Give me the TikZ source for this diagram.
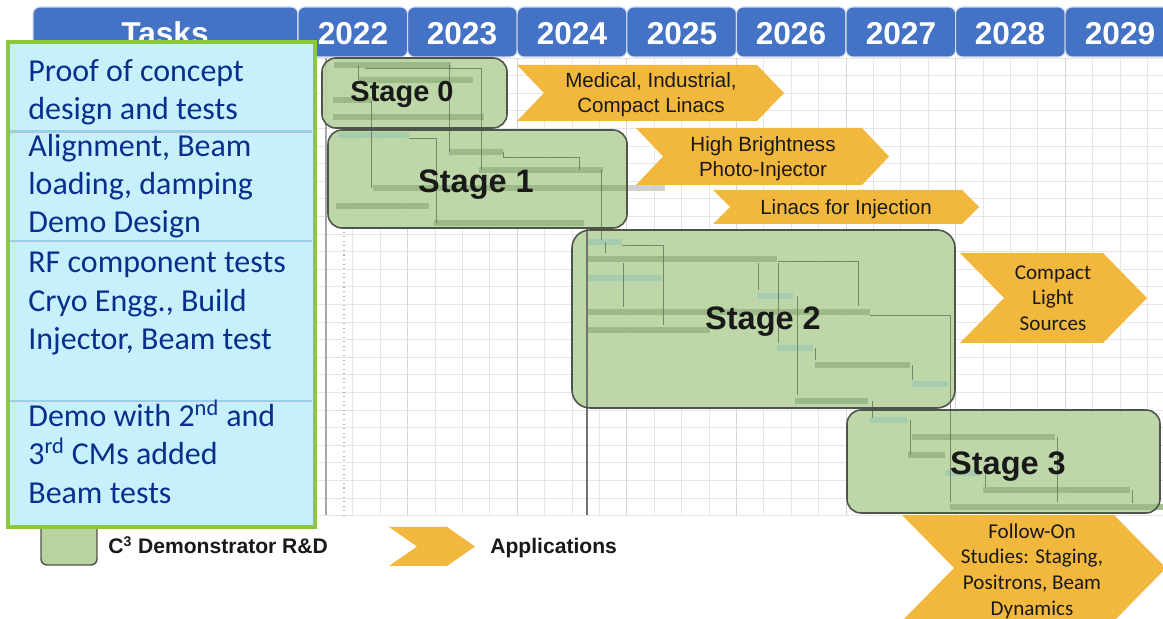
\documentclass[tikz,border=0pt]{standalone}
\usepackage{fontspec}
\setmainfont{Liberation Sans}
\newfontfamily\carl{Carlito}
\definecolor{hdr}{HTML}{4472C4}
\definecolor{stagefill}{HTML}{B8D3A0}
\definecolor{stageline}{HTML}{4F544B}
\definecolor{barc}{HTML}{97B582}
\definecolor{tealc}{HTML}{A2CBB0}
\definecolor{greyc}{HTML}{C9C9C9}
\definecolor{connc}{HTML}{5E6E58}
\definecolor{appl}{HTML}{F2B83D}
\definecolor{lbfill}{HTML}{C6F1FC}
\definecolor{lbborder}{HTML}{8CC83C}
\definecolor{lbtext}{HTML}{0C2D8C}
\definecolor{sepc}{HTML}{9ACFE8}
\definecolor{gridc}{HTML}{E6E6E6}
\definecolor{gridy}{HTML}{D6D6D6}
\tikzset{
  hdrbox/.style={fill=hdr, draw=white!75!hdr, line width=0.6pt, rounded corners=1.4mm},
  hdrtext/.style={text=white, font=\fontsize{18}{20}\selectfont\bfseries, anchor=base, inner sep=0pt},
  stagetext/.style={font=\fontsize{18.5}{20}\selectfont\bfseries, anchor=base, inner sep=0pt, text=black!90},
  appltext/.style={font=\fontsize{11.7}{14.4}\selectfont, align=center, text=black!90, inner sep=0pt},
  appltextc/.style={font=\carl\fontsize{12}{14.4}\selectfont, align=center, text=black!90, inner sep=0pt},
  lefttext/.style={font=\carl\fontsize{18.2}{21}\selectfont, text=lbtext, anchor=base west, inner sep=0pt},
  legtext/.style={font=\fontsize{12}{14}\selectfont\bfseries, anchor=base west, inner sep=0pt, text=black!90},
  conn/.style={draw=connc, line width=0.35pt, draw opacity=0.75},
  stageborder/.style={draw=stageline, line width=0.9pt},
}
\newcommand\gbar[4]{\fill[#4, fill opacity=0.85] (#2,#1-3.3) rectangle (#3,#1+3.3);}
\newcommand\chev[5]{\fill[appl] (#1,#3) -- ({#2-#5},#3) -- (#2,{(#3+#4)/2}) -- ({#2-#5},#4) -- (#1,#4) -- ({#1+#5},{(#3+#4)/2}) -- cycle;}
\begin{document}
\begin{tikzpicture}[x=0.2mm,y=-0.2mm]
\useasboundingbox (0,0) rectangle (1163,619);
\clip (0,0) rectangle (1163,619);
\fill[white] (0,0) rectangle (1163,619);

% grid
\foreach \i in {0,...,26} \draw[gridc, line width=0.4pt] (316,{58+\i*17.6}) -- (1163,{58+\i*17.6});
\foreach \k in {1,...,31} \draw[gridc, line width=0.4pt] ({298+\k*27.4},58) -- ({298+\k*27.4},515);
\foreach \k in {1,...,7} \draw[gridy, line width=0.5pt] ({298+\k*109.6},58) -- ({298+\k*109.6},515);
\draw[black!35, line width=1pt] (326,58) -- (326,515);
\draw[black!30, line width=0.6pt, dotted] (344,58) -- (344,515);

% header
\draw[hdrbox] (33,7) rectangle (298,57);
\foreach \k in {0,...,7} \draw[hdrbox] ({298+\k*109.6},7) rectangle ({298+(\k+1)*109.6},57);
\node[hdrtext] (htasks) at (165,45) {Tasks};
\node[hdrtext] (h2022) at (353,45) {2022};
\node[hdrtext] (h2023) at (462,45) {2023};
\node[hdrtext] (h2024) at (572,45) {2024};
\node[hdrtext] (h2025) at (682,45) {2025};
\node[hdrtext] (h2026) at (791,45) {2026};
\node[hdrtext] (h2027) at (901,45) {2027};
\node[hdrtext] (h2028) at (1010,45) {2028};
\node[hdrtext] (h2029) at (1120,45) {2029};

% stage fills
\fill[stagefill, fill opacity=0.9, rounded corners=2.8mm] (322,58) rectangle (507,128);
\fill[stagefill, fill opacity=0.9, rounded corners=2.8mm] (328,130) rectangle (627,228);
\fill[stagefill, fill opacity=0.9, rounded corners=3.6mm] (572,230) rectangle (955,408);
\fill[stagefill, fill opacity=0.9, rounded corners=2.8mm] (847,410) rectangle (1160,513);

% gantt bars stage 0/1
\gbar{65}{334}{451}{barc}
\gbar{80}{359}{473}{barc}
\gbar{100}{333}{371}{barc}
\gbar{117}{333}{484}{barc}
\gbar{135}{338}{409}{tealc}
\gbar{152}{449}{503}{barc}
\gbar{170}{479}{603}{barc}
\gbar{188}{373}{627}{barc}
\gbar{188}{627}{665}{greyc}
\gbar{206}{336}{429}{barc}
\gbar{223}{434}{584}{barc}
% stage 2
\gbar{242}{587}{622}{tealc}
\gbar{259}{587}{777}{barc}
\gbar{278}{587}{662}{tealc}
\gbar{296}{757}{793}{tealc}
\gbar{312}{587}{870}{barc}
\gbar{330}{587}{710}{barc}
\gbar{348}{777}{813}{tealc}
\gbar{365}{815}{910}{barc}
\gbar{384}{912}{948}{tealc}
\gbar{401}{795}{868}{barc}
% stage 3
\gbar{420}{870}{907}{tealc}
\gbar{437}{912}{1055}{barc}
\gbar{455}{908}{945}{barc}
\gbar{473}{945}{980}{tealc}
\gbar{490}{983}{1130}{barc}
\gbar{507}{950}{1163}{barc}

% connectors
\draw[conn] (358,65) -- (358,80);
\draw[conn] (365,68) -- (481,68) -- (481,170);
\draw[conn] (449,65) -- (449,152);
\draw[conn] (371,100) -- (371,188);
\draw[conn] (409,138) -- (436,138) -- (436,223);
\draw[conn] (503,152) -- (503,157) -- (579,157) -- (579,170);
\draw[conn] (601,170) -- (601,240);
\draw[black!55, line width=0.6pt] (587,228) -- (587,515);
\draw[conn] (605,242) -- (605,253);
\draw[conn] (622,245) -- (663,245) -- (663,325);
\draw[conn] (623,263) -- (623,307);
\draw[conn] (758,263) -- (758,290);
\draw[conn] (778,263) -- (778,343);
\draw[conn] (778,261) -- (858,261) -- (858,306);
\draw[conn] (797,296) -- (797,395);
\draw[conn] (815,348) -- (815,360);
\draw[conn] (912,365) -- (912,380);
\draw[conn] (870,315) -- (950,315) -- (950,502);
\draw[conn] (872,401) -- (872,418);
\draw[conn] (910,420) -- (910,455);
\draw[conn] (1057,437) -- (1057,502);
\draw[conn] (985,473) -- (985,487);
\draw[conn] (1132,490) -- (1132,503);

% stage borders
\draw[stageborder, rounded corners=2.8mm] (322,58) rectangle (507,128);
\draw[stageborder, rounded corners=2.8mm] (328,130) rectangle (627,228);
\draw[stageborder, rounded corners=3.6mm] (572,230) rectangle (955,408);
\draw[stageborder, rounded corners=2.8mm] (847,410) rectangle (1160,513);
\node[stagetext, font=\fontsize{16.5}{18}\selectfont\bfseries] (s0) at (402,102) {Stage 0};
\node[stagetext] (s1) at (476,193) {Stage 1};
\node[stagetext] (s2) at (763,330) {Stage 2};
\node[stagetext] (s3) at (1008,475) {Stage 3};

% applications
\chev{517}{784}{65}{121}{27}
\node[appltext] (a1) at (651,95) {Medical, Industrial,\\Compact Linacs};
\chev{636}{889}{128}{185}{27}
\node[appltext] (a2) at (763,159) {High Brightness\\Photo-Injector};
\chev{713}{979}{190}{224}{17}
\node[appltext] (a3) at (846,209) {Linacs for Injection};
\chev{960}{1147}{253}{343}{44}
\node[appltextc] (a4) at (1053,298) {Compact\\Light\\Sources};
\chev{902}{1166}{515}{621}{52}
\node[appltextc, font=\carl\fontsize{12}{14.6}\selectfont] (a5) at (1032,571) {Follow-On\\Studies: Staging,\\Positrons, Beam\\Dynamics};

% legend
\draw[fill=stagefill, draw=stageline, line width=0.8pt, rounded corners=1.2mm] (41,505) rectangle (97,565);
\node[legtext] (leg1) at (108,554) {C\textsuperscript{3} Demonstrator R\&D};
\chev{389}{475}{527}{566}{28}
\node[legtext] (leg2) at (490,554) {Applications};

% left task box
\draw[fill=lbfill, draw=lbborder, line width=1.8pt] (8,42) rectangle (315,527);
\foreach \yy in {131.5,241,401} {
  \draw[sepc!45, line width=1.5pt] (10,\yy+2) -- (312,\yy+2);
  \draw[sepc, line width=1.3pt] (10,\yy) -- (312,\yy);
}
\node[lefttext] (t1) at (28,82) {Proof of concept};
\node[lefttext] (t2) at (28,120) {design and tests};
\node[lefttext] (t3) at (28,157) {Alignment, Beam};
\node[lefttext] (t4) at (28,195) {loading, damping};
\node[lefttext] (t5) at (28,233) {Demo Design};
\node[lefttext] (t6) at (28,273) {RF component tests};
\node[lefttext] (t7) at (28,312) {Cryo Engg., Build};
\node[lefttext] (t8) at (28,350) {Injector, Beam test};
\node[lefttext] (t9) at (28,427) {Demo with 2\textsuperscript{nd} and};
\node[lefttext] (t10) at (28,465) {3\textsuperscript{rd} CMs added};
\node[lefttext] (t11) at (28,504) {Beam tests};
\end{tikzpicture}
\end{document}
